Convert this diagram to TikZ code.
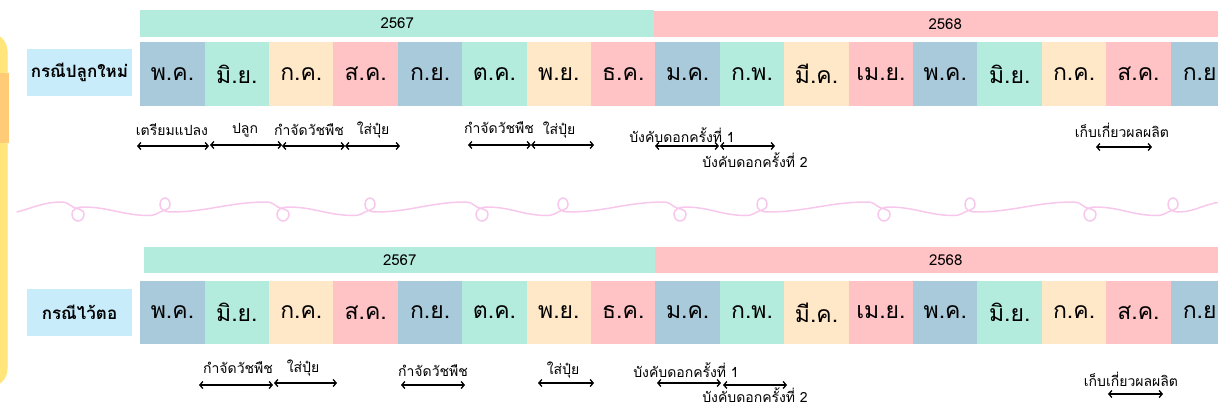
\documentclass[tikz,border=0pt]{standalone}
\usepackage{fontspec}
\usetikzlibrary{arrows.meta}
\newfontfamily\thai[Script=Thai]{Loma}
\definecolor{cblue}{HTML}{A8CADA}
\definecolor{cmint}{HTML}{B3EBDD}
\definecolor{ccream}{HTML}{FFE8C8}
\definecolor{cpink}{HTML}{FFC2C5}
\definecolor{clabel}{HTML}{C8ECFA}
\definecolor{cyellow}{HTML}{FFE57A}
\definecolor{corange}{HTML}{FFCB77}
\definecolor{cwave}{HTML}{F7C8EC}
\begin{document}
\begin{tikzpicture}[x=1pt,y=1pt,
  monthcell/.style={anchor=north west,inner sep=0,minimum width=64.6pt,minimum height=63.5pt,
    font=\thai\fontsize{23}{23}\selectfont},
  yearbar/.style={anchor=north west,inner sep=0,minimum height=26.5pt,
    font=\thai\fontsize{15}{15}\selectfont},
  casebox/.style={fill=clabel,inner sep=0,minimum width=105pt,minimum height=47pt,
    font=\thai\bfseries\fontsize{17}{17}\selectfont},
  lbl/.style={inner sep=0,font=\thai\fontsize{14}{14}\selectfont},
  span/.style={{Straight Barb[length=3pt,width=7pt]}-{Straight Barb[length=3pt,width=7pt]},line width=1.3pt},
  wave/.style={draw=cwave,line width=1.5pt,line cap=round}]
\useasboundingbox (0,0) rectangle (1218,-407);
\clip (0,0) rectangle (1218,-407);
% left decoration
\fill[cyellow,rounded corners=18pt] (-40,-33) rectangle (7.5,-387);
\fill[corange] (-1,-73) rectangle (9,-143);
% year bars
\node[yearbar,fill=cmint,minimum width=514pt] (ta) at (140,-10) {2567};
\node[yearbar,fill=cpink,minimum width=582pt] (tb) at (654,-10.5) {2568};
\node[yearbar,fill=cmint,minimum width=511pt] (ba) at (144,-246.5) {2567};
\node[yearbar,fill=cpink,minimum width=581pt] (bb) at (655,-246.5) {2568};
% month cells
\foreach \r/\yt in {t/42,b/280.5}{
  \foreach \m/\c [count=\i from 0] in {พ.ค./cblue,มิ.ย./cmint,ก.ค./ccream,ส.ค./cpink,ก.ย./cblue,ต.ค./cmint,พ.ย./ccream,ธ.ค./cpink,ม.ค./cblue,ก.พ./cmint,มี.ค./ccream,เม.ย./cpink,พ.ค./cblue,มิ.ย./cmint,ก.ค./ccream,ส.ค./cpink,ก.ย./cblue}{
    \node[monthcell,fill=\c] (\r\i) at ({140+64.4*\i},-\yt) {\m};
  }
}
% case labels
\node[casebox] (case1) at (79.5,-72.5) {กรณีปลูกใหม่};
\node[casebox] (case2) at (79.5,-312.5) {กรณีไว้ตอ};
% wave
\draw[wave] (17,-212) to[out=15,in=180] (62,-202) to[out=0,in=150] (73,-207);
\foreach \xb/\xt/\xn in {78/165/283,283/370/482,482/563/680,680/762/884,884/970/1090}{
  \draw[wave] (\xb-5,-207) to[out=-30,in=90] (\xb+6,-214) to[out=-90,in=0] (\xb,-221)
    to[out=180,in=-90] (\xb-6,-214) to[out=90,in=180] (\xb+5,-207)
    to[out=0,in=180] (\xt-16,-215.5) to[out=0,in=210] (\xt-5,-212)
    to[out=30,in=-90] (\xt+5,-205) to[out=90,in=0] (\xt,-198)
    to[out=180,in=90] (\xt-5,-205) to[out=-90,in=180] (\xt+5,-212)
    to[out=0,in=180] (\xn-16,-202) to[out=0,in=150] (\xn-5,-207);
}
\draw[wave] (1085,-207) to[out=-30,in=90] (1096,-214) to[out=-90,in=0] (1090,-221)
    to[out=180,in=-90] (1084,-214) to[out=90,in=180] (1095,-207)
    to[out=0,in=180] (1157,-215.5) to[out=0,in=210] (1168,-212)
    to[out=30,in=-90] (1178,-205) to[out=90,in=0] (1173,-198)
    to[out=180,in=90] (1168,-205) to[out=-90,in=180] (1178,-212)
    to[out=0,in=180] (1225,-202);
% arrows
\foreach \n/\xa/\xb/\yy in {a1/137/209/146,a2/210/282/145,a3/282/345/146,a4/345/400/146,
  a5/468/531/145,a6/531/594/145,a7/655/719/146,a8/720/775/146,a9/1096/1152/147,
  b1/199/273/385,b2/274/337/383,b3/401/465/385,b4/538/594/383,b5/657/721/383,
  b6/723/787/385,b7/1108/1163/394}{
  \coordinate (\n s) at (\xa,-\yy);
  \coordinate (\n e) at (\xb,-\yy);
  \draw[span] (\n s) -- (\n e);
}
% labels
\foreach \n/\x/\y/\t in {l1/172/130/เตรียมแปลง,l2/245/130/ปลูก,l3/309/130/กำจัดวัชพืช,
  l4/373/130/ใส่ปุ๋ย,l5/499/128/กำจัดวัชพืช,l6/559/130/ใส่ปุ๋ย,
  l7/682/135/บังคับดอกครั้งที่ 1,l8/755/160/บังคับดอกครั้งที่ 2,l9/1122/130/เก็บเกี่ยวผลผลิต,
  m1/238/368/กำจัดวัชพืช,m2/303/368/ใส่ปุ๋ย,m3/433/371/กำจัดวัชพืช,m4/563/370/ใส่ปุ๋ย,
  m5/686/370/บังคับดอกครั้งที่ 1,m6/755/395/บังคับดอกครั้งที่ 2,m7/1131/379/เก็บเกี่ยวผลผลิต}{
  \node[lbl] (\n) at (\x,-\y) {\t};
}
\end{tikzpicture}
\end{document}
